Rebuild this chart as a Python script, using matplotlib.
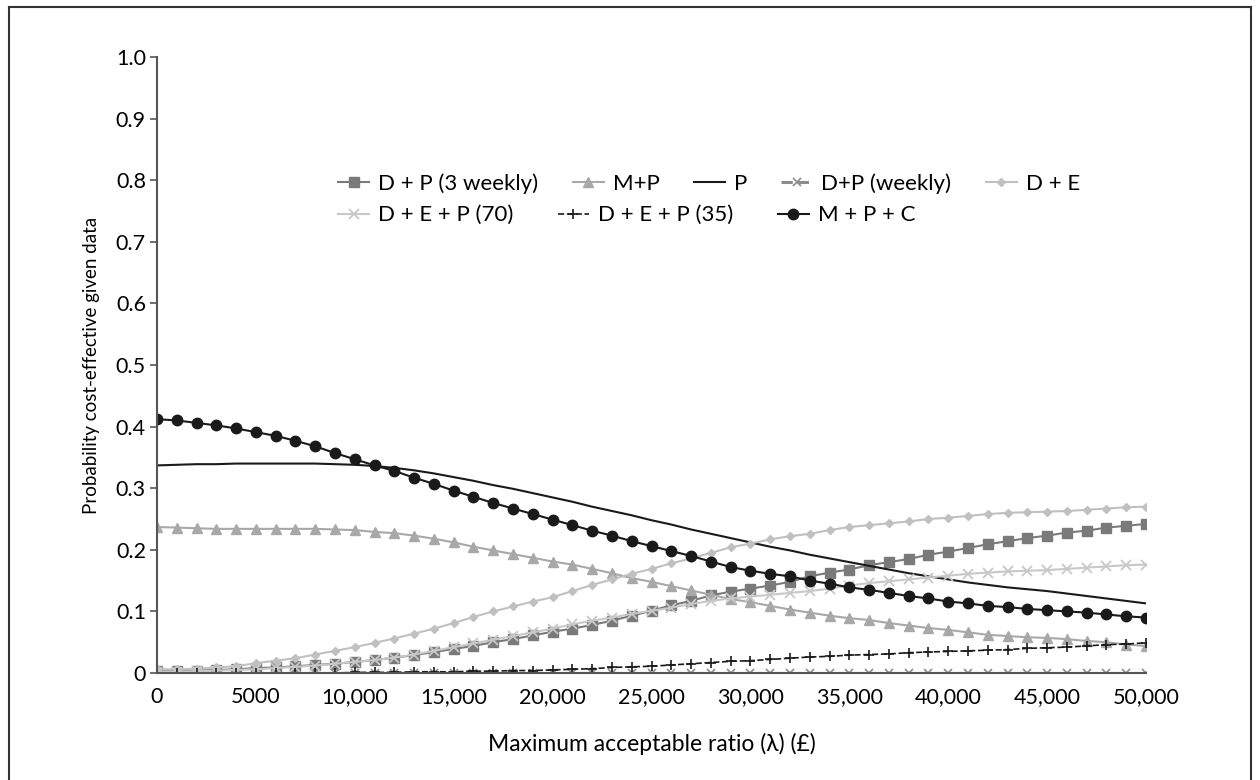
import matplotlib
matplotlib.use("Agg")
import matplotlib.pyplot as plt
from matplotlib.lines import Line2D

plt.rcParams['font.family'] = ['Lato', 'DejaVu Sans']

# willingness to pay (GBP), one point every 1000
wtp = list(range(0, 50001, 1000))

dp_3weekly = [0.003, 0.003, 0.004, 0.005, 0.006, 0.008, 0.009, 0.011, 0.013, 0.015,
              0.018, 0.021, 0.025, 0.029, 0.034, 0.039, 0.044, 0.050, 0.055, 0.061,
              0.067, 0.072, 0.078, 0.085, 0.093, 0.101, 0.110, 0.117, 0.126, 0.132,
              0.137, 0.142, 0.148, 0.157, 0.163, 0.168, 0.175, 0.180, 0.185, 0.192,
              0.197, 0.203, 0.209, 0.214, 0.219, 0.223, 0.228, 0.231, 0.236, 0.239, 0.242]

mp = [0.237, 0.236, 0.235, 0.234, 0.234, 0.234, 0.234, 0.234, 0.234, 0.233,
      0.232, 0.229, 0.227, 0.223, 0.218, 0.212, 0.205, 0.199, 0.193, 0.187,
      0.181, 0.176, 0.169, 0.162, 0.154, 0.148, 0.141, 0.134, 0.127, 0.120,
      0.115, 0.109, 0.103, 0.098, 0.093, 0.089, 0.086, 0.081, 0.077, 0.073,
      0.070, 0.066, 0.062, 0.060, 0.058, 0.057, 0.055, 0.052, 0.050, 0.046, 0.044]

p = [0.337, 0.338, 0.339, 0.339, 0.340, 0.340, 0.340, 0.340, 0.340, 0.339,
     0.338, 0.336, 0.333, 0.329, 0.324, 0.318, 0.312, 0.305, 0.299, 0.292,
     0.285, 0.278, 0.270, 0.263, 0.256, 0.248, 0.241, 0.233, 0.226, 0.219,
     0.212, 0.205, 0.199, 0.192, 0.186, 0.180, 0.174, 0.168, 0.162, 0.157,
     0.152, 0.147, 0.143, 0.139, 0.136, 0.133, 0.129, 0.125, 0.121, 0.117, 0.113]

dp_weekly = [0.0, 0.0, 0.0, 0.0, 0.0, 0.0, 0.0, 0.0, 0.0, 0.0,
             0.0, 0.0, 0.0, 0.0, 0.0, 0.0, 0.0, 0.0, 0.0, 0.0,
             0.0, 0.0, 0.0, 0.0, 0.0, 0.0, 0.0, 0.0, 0.0, 0.0,
             0.0, 0.0, 0.0, 0.0, 0.0, 0.0, 0.0, 0.0, 0.0, 0.0,
             0.0, 0.0, 0.0, 0.0, 0.0, 0.0, 0.0, 0.0, 0.0, 0.0, 0.0]

de = [0.006, 0.006, 0.007, 0.009, 0.011, 0.016, 0.020, 0.024, 0.030, 0.036,
      0.042, 0.049, 0.056, 0.064, 0.072, 0.081, 0.091, 0.100, 0.108, 0.116,
      0.123, 0.133, 0.143, 0.152, 0.161, 0.169, 0.178, 0.186, 0.195, 0.204,
      0.210, 0.217, 0.222, 0.226, 0.232, 0.237, 0.240, 0.243, 0.246, 0.250,
      0.252, 0.255, 0.258, 0.260, 0.261, 0.262, 0.263, 0.265, 0.267, 0.269, 0.270]

dep_70 = [0.002, 0.002, 0.003, 0.004, 0.005, 0.006, 0.008, 0.010, 0.012, 0.015,
          0.018, 0.021, 0.025, 0.030, 0.036, 0.042, 0.048, 0.054, 0.060, 0.066,
          0.072, 0.079, 0.085, 0.090, 0.096, 0.101, 0.106, 0.112, 0.117, 0.121,
          0.124, 0.127, 0.130, 0.133, 0.137, 0.142, 0.146, 0.149, 0.152, 0.155,
          0.158, 0.161, 0.163, 0.165, 0.166, 0.167, 0.169, 0.171, 0.173, 0.175, 0.176]

dep_35 = [0.000, 0.000, 0.000, 0.000, 0.000, 0.000, 0.000, 0.000, 0.000, 0.000,
          0.001, 0.001, 0.001, 0.002, 0.002, 0.002, 0.003, 0.003, 0.004, 0.004,
          0.005, 0.006, 0.007, 0.009, 0.010, 0.011, 0.013, 0.015, 0.017, 0.019,
          0.020, 0.022, 0.024, 0.026, 0.027, 0.029, 0.030, 0.031, 0.033, 0.034,
          0.035, 0.036, 0.037, 0.038, 0.040, 0.041, 0.042, 0.044, 0.046, 0.047, 0.049]

mpc = [0.412, 0.410, 0.406, 0.402, 0.397, 0.391, 0.385, 0.377, 0.368, 0.357,
       0.347, 0.337, 0.328, 0.317, 0.307, 0.296, 0.286, 0.276, 0.267, 0.258,
       0.249, 0.240, 0.231, 0.223, 0.214, 0.206, 0.198, 0.190, 0.181, 0.172,
       0.166, 0.161, 0.157, 0.150, 0.145, 0.139, 0.135, 0.130, 0.125, 0.121,
       0.116, 0.113, 0.109, 0.107, 0.104, 0.102, 0.100, 0.098, 0.095, 0.092, 0.090]

xticks = [0, 5000, 10000, 15000, 20000, 25000, 30000, 35000, 40000, 45000, 50000]
xtick_labels = ['0', '5000', '10,000', '15,000', '20,000', '25,000', '30,000',
                '35,000', '40,000', '45,000', '50,000']
yticks = [0, 0.1, 0.2, 0.3, 0.4, 0.5, 0.6, 0.7, 0.8, 0.9, 1.0]
ytick_labels = ['0', '0.1', '0.2', '0.3', '0.4', '0.5', '0.6', '0.7', '0.8', '0.9', '1.0']

fig = plt.figure(figsize=(12.6, 7.8), dpi=100)
ax = fig.add_axes([157 / 1260, 107 / 780, 989 / 1260, 616 / 780])

h1, = ax.plot(wtp, dp_3weekly, '-s', color='#7a7a7a', ms=6.5, lw=1.5, label='D + P (3 weekly)')
h2, = ax.plot(wtp, mp, '-^', color='#a8a8a8', ms=7.5, lw=1.5, label='M+P')
h3, = ax.plot(wtp, p, '-', color='#1a1a1a', lw=1.5, label='P')
h4, = ax.plot(wtp, dp_weekly, '--x', color='#8c8c8c', ms=6, lw=2.2, mew=1.2, label='D+P (weekly)')
h5, = ax.plot(wtp, de, '-D', color='#c0c0c0', ms=4.5, lw=1.5, label='D + E')
h6, = ax.plot(wtp, dep_70, '-x', color='#c8c8c8', ms=7, lw=1.5, mew=1.3, label='D + E + P (70)')
h7, = ax.plot(wtp, dep_35, '--+', color='#1a1a1a', ms=7, lw=1.2, mew=1.2, label='D + E + P (35)')
h8, = ax.plot(wtp, mpc, '-o', color='#1a1a1a', ms=7.5, lw=1.5, label='M + P + C')

ax.set_xlim(0, 50000)
ax.set_ylim(0, 1.0)
ax.set_xticks(xticks)
ax.set_xticklabels(xtick_labels)
ax.set_yticks(yticks)
ax.set_yticklabels(ytick_labels)
ax.tick_params(axis='x', length=0, pad=10, labelsize=15.5)
ax.tick_params(axis='y', length=5, width=1.2, color='#555555', pad=3, labelsize=15.5)
for s in ['top', 'right']:
    ax.spines[s].set_visible(False)
for s in ['left', 'bottom']:
    ax.spines[s].set_color('#555555')
    ax.spines[s].set_linewidth(1.5)
for lab in ax.get_xticklabels():
    lab.set_clip_on(False)

ax.set_ylabel('Probability cost-effective given data', fontsize=13.5)
ax.yaxis.set_label_coords(-0.058, 0.5)
ax.set_xlabel('Maximum acceptable ratio (\u03bb) (\u00a3)', fontsize=16.5)
ax.xaxis.set_label_coords(0.5, -0.097)

leg_kw = dict(frameon=False, fontsize=16, handlelength=1.4, handletextpad=0.4,
              borderpad=0, borderaxespad=0, loc='center left')
leg1 = ax.legend(handles=[h1, h2, h3, h4, h5], ncol=5, columnspacing=1.55,
                 bbox_to_anchor=(0.183, 0.795), **leg_kw)
ax.add_artist(leg1)
ax.legend(handles=[h6, h7, h8], ncol=3, columnspacing=2.0,
          bbox_to_anchor=(0.183, 0.743), **leg_kw)

# outer frame around the whole figure
x0, x1 = 9 / 1260, 1251 / 1260
ytop = 773 / 780
for xs, ys in [([x0, x0], [0, ytop]), ([x0, x1], [ytop, ytop]), ([x1, x1], [ytop, 0])]:
    fig.add_artist(Line2D(xs, ys, color='#333333', lw=1.5, transform=fig.transFigure))

plt.savefig('out.png', dpi=100)
